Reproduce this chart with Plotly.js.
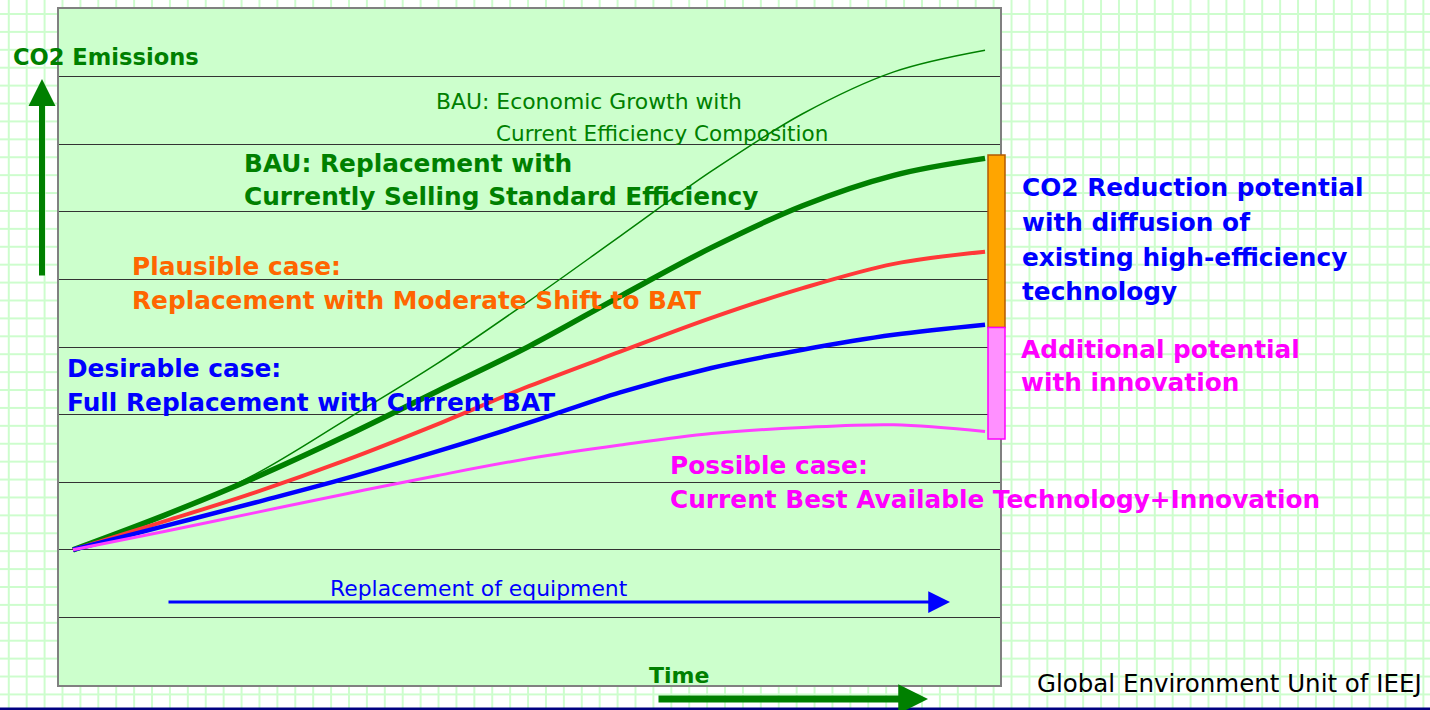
<!DOCTYPE html>
<html><head><meta charset="utf-8">
<script src="https://cdn.plot.ly/plotly-3.0.1.min.js"></script>
<style>
html,body{margin:0;padding:0;width:1430px;height:710px;overflow:hidden;background-color:#ffffff;}
body{background-image:linear-gradient(to right,#cdfdcd 2px,transparent 2px),linear-gradient(to bottom,#cdfdcd 2px,transparent 2px);background-size:17.92px 17.92px;background-position:25.7px 13px;}
#chart{width:1430px;height:710px;}
</style></head><body><div id="chart"></div><script>
// ---- data (conceptual emission paths, arbitrary units) ----
const time = [0,10,20,30,40,50,60,70,80,90,100];
const bauGrowth    = [2.00,2.49,3.12,3.93,4.76,5.68,6.64,7.60,8.45,9.07,9.39];
const bauStandard  = [2.00,2.51,3.07,3.69,4.35,5.01,5.75,6.47,7.09,7.54,7.79];
const plausibleCase= [2.00,2.42,2.85,3.33,3.86,4.42,4.93,5.43,5.87,6.23,6.41];
const desirableCase= [2.00,2.35,2.70,3.06,3.46,3.88,4.33,4.69,4.96,5.18,5.33];
const possibleCase = [2.00,2.27,2.55,2.83,3.10,3.35,3.55,3.72,3.81,3.85,3.75];
const potentialNames = ['Diffusion of existing technology','Innovation'];
const potentialHigh  = [7.84,5.29];
const potentialLow   = [5.29,3.64];

// ---- layout helpers ----
const L=59,T=9,W=941,H=676;
const px = x => (x-L)/W;
const py = y => (T+H-y)/H;
const GREEN='#008000', ORANGE='#ff6600', BLUE='#0000ff', MAGENTA='#ff00ff';
function label(text,x,y,color,size,bold){
  return {text:text,xref:'paper',yref:'paper',x:px(x-2),y:py(y),xanchor:'left',yanchor:'middle',
    showarrow:false,font:{family:'DejaVu Sans',size:size,color:color,weight:bold?'bold':'normal'}};
}
function arrow(tipX,tipY,ax,ay,color,width,size){
  return {text:'',xref:'paper',yref:'paper',x:px(tipX),y:py(tipY),axref:'pixel',ayref:'pixel',ax:ax,ay:ay,
    showarrow:true,arrowhead:2,arrowcolor:color,arrowwidth:width,arrowsize:size,standoff:0};
}

function line(y,color,width,name){
  return {x:time,y:y,type:'scatter',mode:'lines',name:name,line:{color:color,width:width,shape:'spline',smoothing:1},hoverinfo:'skip'};
}
const traces = [
  line(bauGrowth,GREEN,1.5,'BAU: Economic Growth'),
  line(bauStandard,GREEN,5.5,'BAU: Replacement'),
  line(plausibleCase,'#ff3838',4,'Plausible case'),
  line(desirableCase,BLUE,4.5,'Desirable case'),
  line(possibleCase,'#ff40ff',3,'Possible case')
];

const potentialFill = ['#ffa500','#ff90ff'];
const potentialLine = ['#b35900','#ff00ff'];
const shapes = potentialNames.map((n,i)=>({type:'rect',xref:'paper',yref:'y',x0:px(988),x1:px(1005),
  y0:potentialLow[i],y1:potentialHigh[i],fillcolor:potentialFill[i],line:{color:potentialLine[i],width:1.5},layer:'above'}));
shapes.push({type:'line',xref:'paper',yref:'paper',x0:px(0),x1:px(1430),y0:py(709),y1:py(709),line:{color:'#000080',width:3}});

const B=24.8, R=21.9;
const annotations = [
  label('CO2 Emissions',13,57,GREEN,22.6,true),
  label('BAU: Economic Growth with',436,101,GREEN,R,false),
  label('Current Efficiency Composition',496,133,GREEN,21.5,false),
  label('BAU: Replacement with',244,163,GREEN,B,true),
  label('Currently Selling Standard Efficiency',244,196,GREEN,B,true),
  label('Plausible case:',132,267,ORANGE,B,true),
  label('Replacement with Moderate Shift to BAT',132,300,ORANGE,B,true),
  label('Desirable case:',67,368,BLUE,B,true),
  label('Full Replacement with Current BAT',67,402,BLUE,B,true),
  label('CO2 Reduction potential',1022,188,BLUE,B,true),
  label('with diffusion of',1022,222,BLUE,B,true),
  label('existing high-efficiency',1022,257,BLUE,B,true),
  label('technology',1022,291,BLUE,B,true),
  label('Additional potential',1021,349,MAGENTA,B,true),
  label('with innovation',1021,382,MAGENTA,B,true),
  label('Possible case:',670,466,MAGENTA,B,true),
  label('Current Best Available Technology+Innovation',670,499,MAGENTA,B,true),
  label('Replacement of equipment',330,588,BLUE,R,false),
  label('Time',649,675,GREEN,22,true),
  label('Global Environment Unit of IEEJ',1037,683,'#000000',24.5,false),
  arrow(42,79,0,198,GREEN,6,0.9),
  arrow(928,699,-271,0,GREEN,7,0.85),
  arrow(950,602,-783,0,BLUE,3,1.45)
];

const layout = {
  width:1430,height:710,margin:{l:L,r:1430-L-W,t:T,b:710-T-H,pad:0},
  paper_bgcolor:'rgba(0,0,0,0)',plot_bgcolor:'#ccffcc',
  showlegend:false,hovermode:false,
  xaxis:{range:[-1.535,101.64],showgrid:false,zeroline:false,showticklabels:false,ticks:'',
    showline:true,mirror:true,linecolor:'#808080',linewidth:2,fixedrange:true},
  yaxis:{range:[0,10],tick0:0,dtick:1,showgrid:true,gridcolor:'#333333',gridwidth:1,zeroline:false,
    showticklabels:false,ticks:'',showline:true,mirror:true,linecolor:'#808080',linewidth:2,fixedrange:true},
  shapes:shapes,annotations:annotations
};
Plotly.newPlot('chart',traces,layout,{displayModeBar:false,staticPlot:true});
</script></body></html>
